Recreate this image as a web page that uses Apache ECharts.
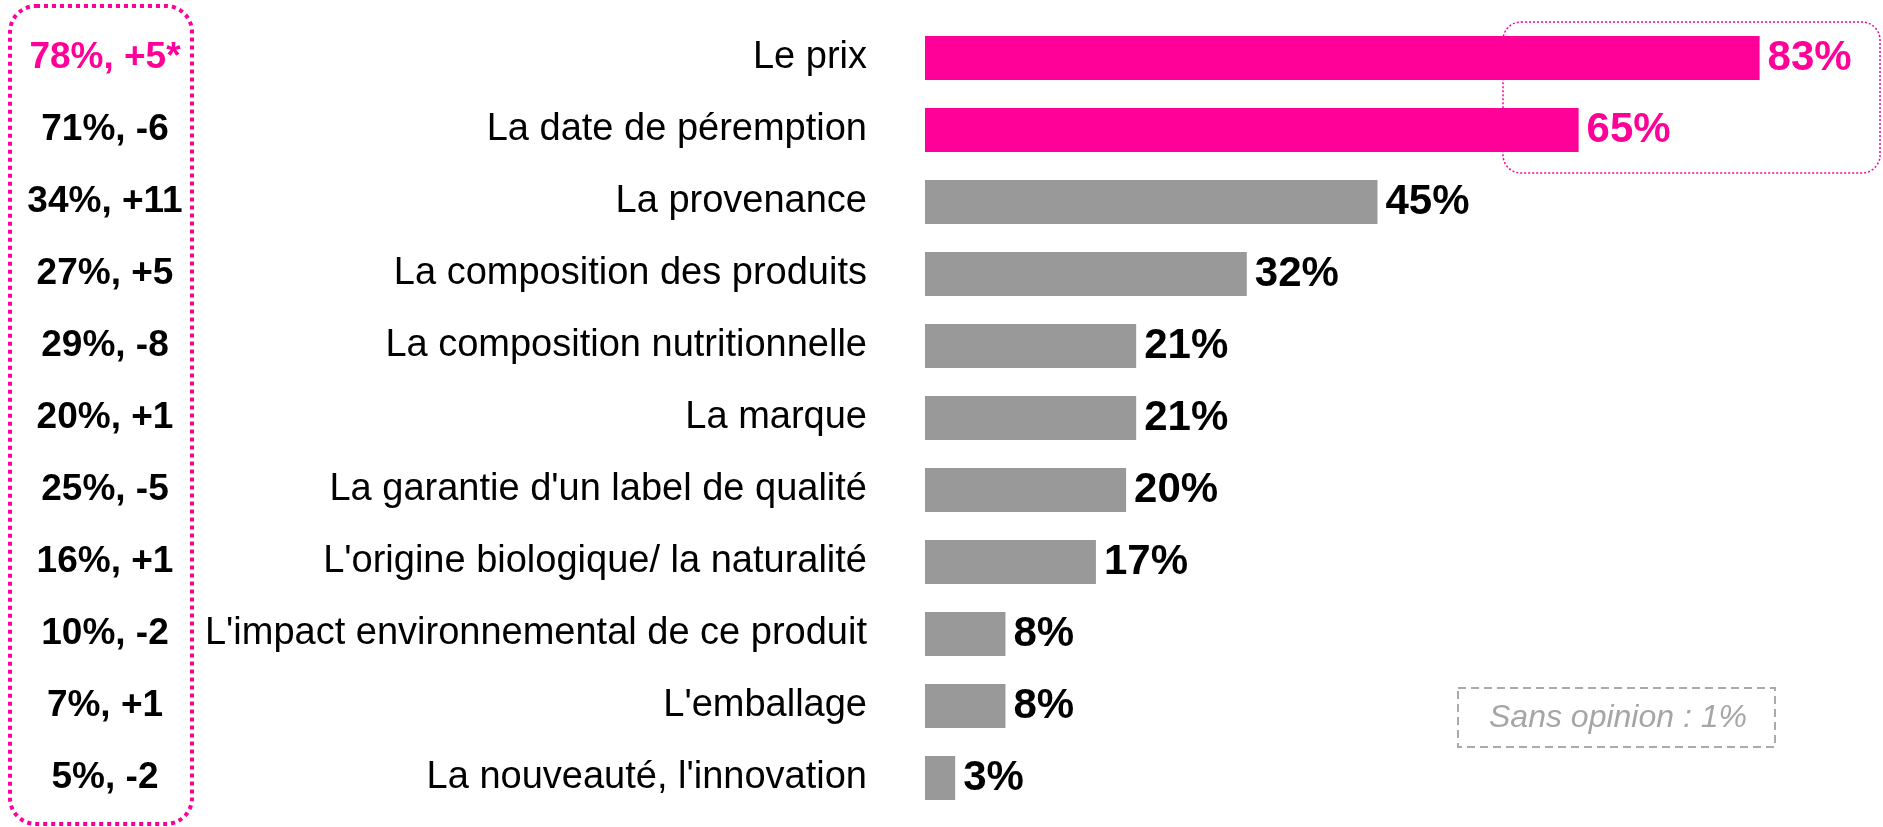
<!DOCTYPE html>
<html>
<head>
<meta charset="utf-8">
<script src="https://cdn.jsdelivr.net/npm/echarts@6/dist/echarts.min.js"></script>
<style>
    html, body { margin: 0; padding: 0; background: #fff; }
    #chart { width: 1883px; height: 827px; }
</style>
</head>
<body>
<div id="chart"></div>
<script>
// critères de choix
const categories = [
    'Le prix',
    'La date de péremption',
    'La provenance',
    'La composition des produits',
    'La composition nutritionnelle',
    'La marque',
    "La garantie d'un label de qualité",
    "L'origine biologique/ la naturalité",
    "L'impact environnemental de ce produit",
    "L'emballage",
    "La nouveauté, l'innovation"
];
const values = [83, 65, 45, 32, 21, 21, 20, 17, 8, 8, 3];
// rappel vague précédente (colonne de gauche)
const previous = ['78%, +5*', '71%, -6', '34%, +11', '27%, +5', '29%, -8', '20%, +1',
    '25%, -5', '16%, +1', '10%, -2', '7%, +1', '5%, -2'];
const highlighted = 2;   // les 2 premiers en rose
const sansOpinion = 'Sans opinion : 1%';

const PINK = '#ff0099';
const GREY = '#999999';
const FONT = '"Liberation Sans", Arial, sans-serif';

const chart = echarts.init(document.getElementById('chart'));
chart.setOption({
    animation: false,
    grid: { left: 925, right: 53, top: 22, bottom: 13 },
    xAxis: {
        type: 'value',
        min: 0,
        max: 90,
        show: false
    },
    yAxis: [{
        type: 'category',
        data: categories,
        inverse: true,
        axisLine: { show: false },
        axisTick: { show: false },
        axisLabel: {
            margin: 58,
            fontSize: 38,
            fontFamily: FONT,
            color: '#000'
        }
    }, {
        type: 'category',
        data: previous,
        inverse: true,
        position: 'left',
        axisLine: { show: false },
        axisTick: { show: false },
        axisLabel: {
            margin: 820,
            align: 'center',
            fontSize: 37,
            fontWeight: 'bold',
            fontFamily: FONT,
            color: (v, i) => (i < 1 ? PINK : '#000')
        }
    }],
    series: [{
        type: 'bar',
        yAxisIndex: 0,
        barWidth: 44,
        data: values.map((v, i) => ({
            value: v,
            itemStyle: { color: i < highlighted ? PINK : GREY },
            label: { color: i < highlighted ? PINK : '#000' }
        })),
        label: {
            show: true,
            position: 'right',
            distance: 8,
            formatter: '{c}%',
            fontSize: 42,
            fontWeight: 'bold',
            fontFamily: FONT
        }
    }],
    graphic: [
        {
            // cadre pointillé colonne gauche
            type: 'rect',
            shape: { x: 10, y: 6, width: 182, height: 818, r: 26 },
            style: { fill: 'none', stroke: PINK, lineWidth: 4, lineDash: [4, 4] }
        },
        {
            // cadre autour du top 2
            type: 'rect',
            shape: { x: 1503, y: 22, width: 377, height: 151, r: 18 },
            style: { fill: 'none', stroke: PINK, lineWidth: 1.5, lineDash: [2, 2] }
        },
        {
            type: 'rect',
            shape: { x: 1458, y: 688, width: 317, height: 59 },
            style: { fill: '#fff', stroke: '#aaaaaa', lineWidth: 2, lineDash: [8, 5] }
        },
        {
            type: 'text',
            x: 1618,
            y: 718,
            style: {
                text: sansOpinion,
                fontSize: 32,
                fontStyle: 'italic',
                fontFamily: FONT,
                fill: '#a6a6a6',
                align: 'center',
                verticalAlign: 'middle'
            }
        }
    ]
});
</script>
</body>
</html>
